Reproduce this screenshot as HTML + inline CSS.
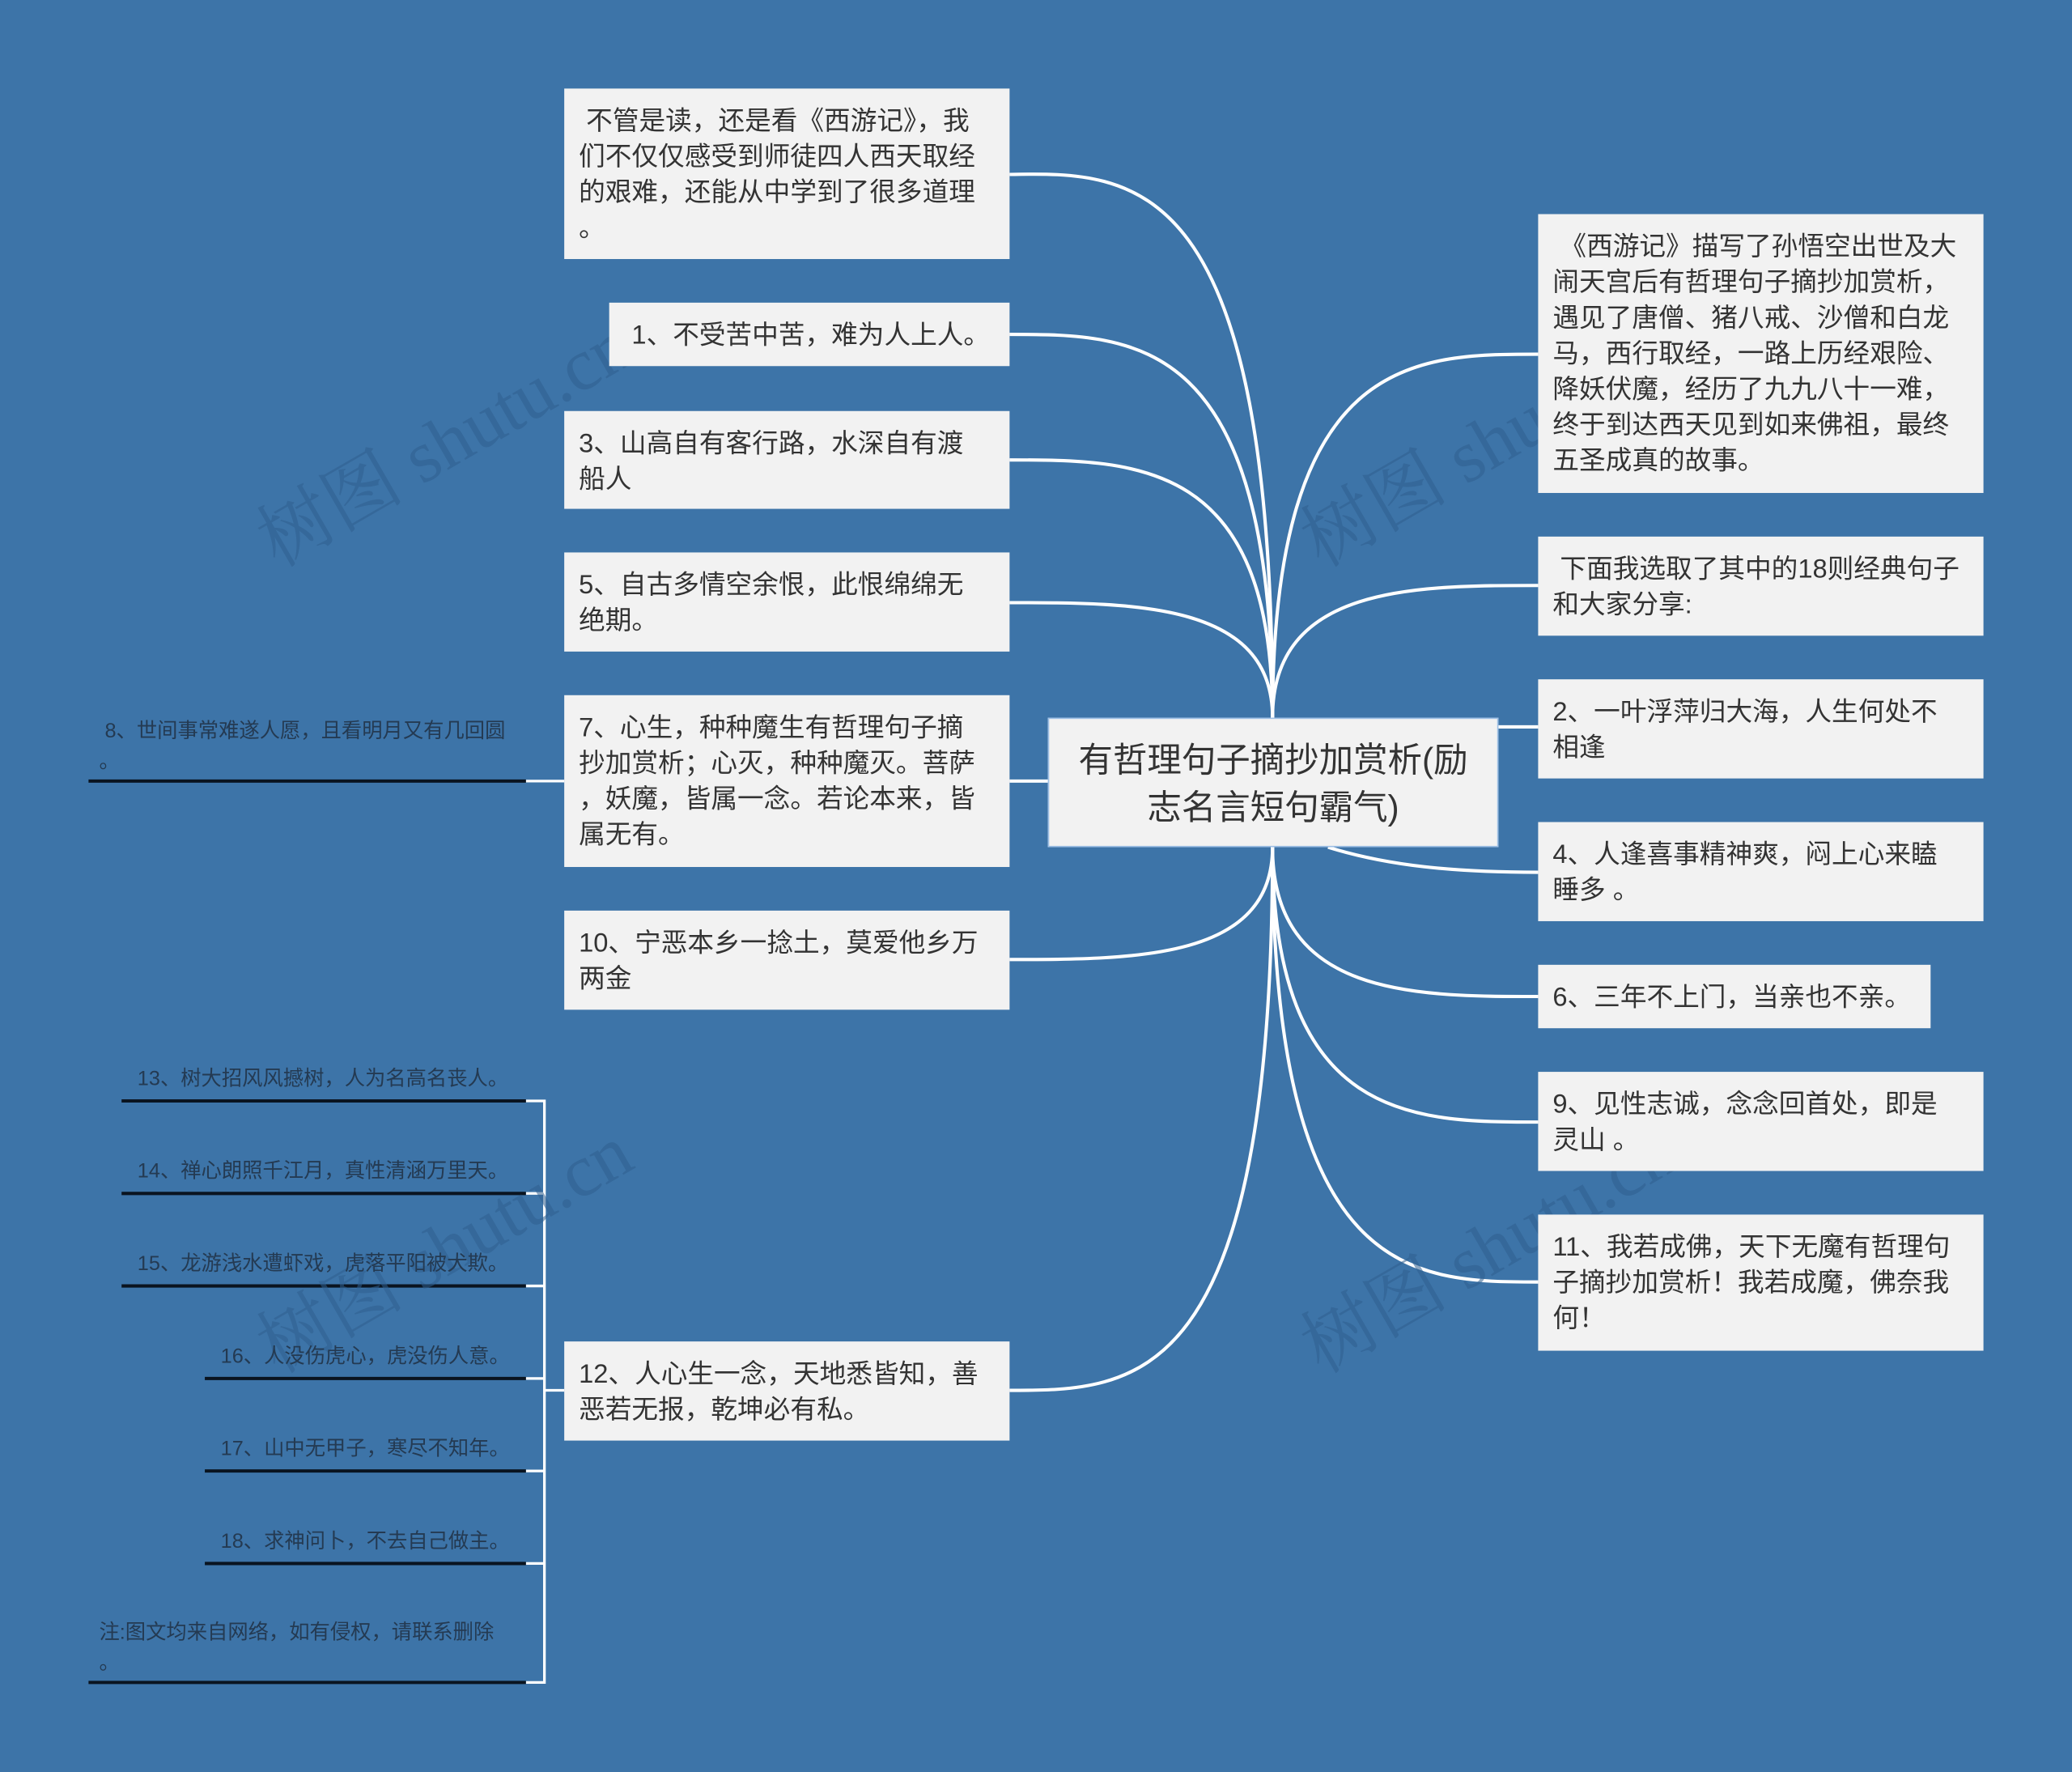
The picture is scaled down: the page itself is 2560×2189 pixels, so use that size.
<!DOCTYPE html>
<html><head><meta charset="utf-8"><style>
html,body{margin:0;padding:0;}
body{width:2560px;height:2189px;overflow:hidden;background:#3d74a8;}
#w{position:absolute;left:0;top:0;width:1568px;height:1341px;transform:scale(1.63265);transform-origin:0 0;font-family:"Liberation Sans","Noto Sans CJK SC",sans-serif;}
.n{position:absolute;background:#f2f2f2;color:#333;font-size:20px;line-height:27px;padding:12px 0 10px 11px;box-sizing:border-box;white-space:nowrap;overflow:hidden;}
.l{position:absolute;color:#243a52;font-size:15.5px;line-height:23px;white-space:nowrap;}
svg{position:absolute;left:0;top:0;}
</style></head><body><div id="w">
<svg width="1568" height="1341" fill="none">
<g stroke="#fff" stroke-width="2.5">
<path d="M963 543 C963 130 860 130 764 132"/>
<path d="M963 543 C963 253 860 253 764 253"/>
<path d="M963 543 C963 348 860 348 764 348"/>
<path d="M963 543 C963 456 860 456 764 456"/>
<path d="M764 591 L793 591"/>
<path d="M963 641 C963 726 860 726 764 726"/>
<path d="M963 641 C963 1052 860 1052 764 1052"/>
<path d="M963 543 C963 268 1070 268 1164 268"/>
<path d="M963 543 C963 443 1070 443 1164 443"/>
<path d="M1134 550 L1164 550"/>
<path d="M1005 641 C1050 655 1100 660 1164 660"/>
<path d="M963 641 C963 754 1070 754 1164 754"/>
<path d="M963 641 C963 849 1070 849 1164 849"/>
<path d="M963 641 C963 970 1070 970 1164 970"/>
<path d="M398 591 L427 591" stroke-width="2"/>
<path d="M398 833 L412 833 L412 1273 L398 1273 M398 903 L412 903 M398 973 L412 973 M398 1043 L412 1043 M398 1113 L412 1113 M398 1183 L412 1183 M412 1052 L427 1052" stroke-width="2"/>
</g>
<g stroke="#0a1420" stroke-width="2.5">
<path d="M67 591 H398 M92 833 H398 M92 903 H398 M92 973 H398 M155 1043 H398 M155 1113 H398 M155 1183 H398 M67 1273 H398"/>
</g>
<g fill="#2f5f8e" fill-opacity="0.55" font-size="56" font-family="Liberation Serif,Noto Serif CJK SC,serif">
<text x="210" y="430" transform="rotate(-30 210 430)">树图 shutu.cn</text>
<text x="1000" y="430" transform="rotate(-30 1000 430)">树图 shutu.cn</text>
<text x="210" y="1040" transform="rotate(-30 210 1040)">树图 shutu.cn</text>
<text x="1000" y="1040" transform="rotate(-30 1000 1040)">树图 shutu.cn</text>
</g>
</svg>
<div class="n" style="left:793px;top:543px;width:341px;height:98px;font-size:26px;line-height:36px;text-align:center;padding:13px 0;border:1.5px solid #9ec0e6;">有哲理句子摘抄加赏析(励<br>志名言短句霸气)</div>
<div class="n" style="left:427px;top:67px;width:337px;height:129px;">&nbsp;不管是读，还是看《西游记》，我<br>们不仅仅感受到师徒四人西天取经<br>的艰难，还能从中学到了很多道理<br>。</div>
<div class="n" style="left:461px;top:229px;width:303px;height:48px;padding-left:17px;">1、不受苦中苦，难为人上人。</div>
<div class="n" style="left:427px;top:311px;width:337px;height:74px;">3、山高自有客行路，水深自有渡<br>船人</div>
<div class="n" style="left:427px;top:418px;width:337px;height:75px;">5、自古多情空余恨，此恨绵绵无<br>绝期。</div>
<div class="n" style="left:427px;top:526px;width:337px;height:130px;">7、心生，种种魔生有哲理句子摘<br>抄加赏析；心灭，种种魔灭。菩萨<br>，妖魔，皆属一念。若论本来，皆<br>属无有。</div>
<div class="n" style="left:427px;top:689px;width:337px;height:75px;">10、宁恶本乡一捻土，莫爱他乡万<br>两金</div>
<div class="n" style="left:427px;top:1015px;width:337px;height:75px;">12、人心生一念，天地悉皆知，善<br>恶若无报，乾坤必有私。</div>
<div class="n" style="left:1164px;top:162px;width:337px;height:211px;">&nbsp;《西游记》描写了孙悟空出世及大<br>闹天宫后有哲理句子摘抄加赏析，<br>遇见了唐僧、猪八戒、沙僧和白龙<br>马，西行取经，一路上历经艰险、<br>降妖伏魔，经历了九九八十一难，<br>终于到达西天见到如来佛祖，最终<br>五圣成真的故事。</div>
<div class="n" style="left:1164px;top:406px;width:337px;height:75px;">&nbsp;下面我选取了其中的18则经典句子<br>和大家分享:</div>
<div class="n" style="left:1164px;top:514px;width:337px;height:75px;">2、一叶浮萍归大海，人生何处不<br>相逢</div>
<div class="n" style="left:1164px;top:622px;width:337px;height:75px;">4、人逢喜事精神爽，闷上心来瞌<br>睡多 。</div>
<div class="n" style="left:1164px;top:730px;width:297px;height:48px;">6、三年不上门，当亲也不亲。</div>
<div class="n" style="left:1164px;top:811px;width:337px;height:75px;">9、见性志诚，念念回首处，即是<br>灵山 。</div>
<div class="n" style="left:1164px;top:919px;width:337px;height:103px;">11、我若成佛，天下无魔有哲理句<br>子摘抄加赏析！我若成魔，佛奈我<br>何！</div>
<div class="l" style="left:75px;top:542px;">&nbsp;8、世间事常难遂人愿，且看明月又有几回圆<br>。</div>
<div class="l" style="left:104px;top:805px;">13、树大招风风撼树，人为名高名丧人。</div>
<div class="l" style="left:104px;top:875px;">14、禅心朗照千江月，真性清涵万里天。</div>
<div class="l" style="left:104px;top:945px;">15、龙游浅水遭虾戏，虎落平阳被犬欺。</div>
<div class="l" style="left:167px;top:1015px;">16、人没伤虎心，虎没伤人意。</div>
<div class="l" style="left:167px;top:1085px;">17、山中无甲子，寒尽不知年。</div>
<div class="l" style="left:167px;top:1155px;">18、求神问卜，不去自己做主。</div>
<div class="l" style="left:75px;top:1224px;">注:图文均来自网络，如有侵权，请联系删除<br>。</div>
</div></body></html>
